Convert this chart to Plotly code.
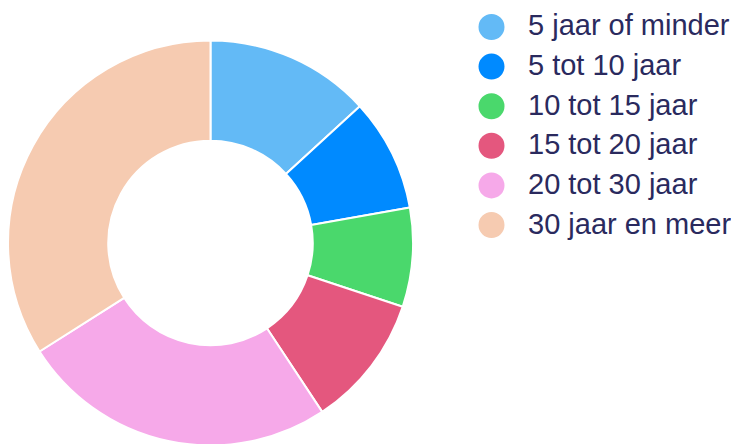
import plotly.graph_objects as go

categories = ["5 jaar of minder", "5 tot 10 jaar", "10 tot 15 jaar",
              "15 tot 20 jaar", "20 tot 30 jaar", "30 jaar en meer"]
values = [13.2, 9.0, 7.9, 10.6, 25.3, 34.0]
colors = ["#63BAF6", "#008AFF", "#4AD86C", "#E4577E", "#F6A9E9", "#F6CBB1"]

W, H = 739, 444
OFF = 8  # page body margin
text_color = "#2A2A5E"


def px(x):
    return (x - OFF) / W


def py(y):
    return 1 - (y - OFF) / H


fig = go.Figure()
fig.add_trace(go.Pie(
    labels=categories, values=values, sort=False, direction="clockwise",
    rotation=0, hole=0.505, textinfo="none", hoverinfo="label+percent",
    marker=dict(colors=colors, line=dict(color="white", width=2)),
    domain=dict(x=[px(8), px(413)], y=[py(445.5), py(40.5)]),
    showlegend=False,
))

# custom legend with circle markers
shapes = []
annotations = []
cx, r = 491.5, 13
y0, dy = 27, 39.6
for i, (lab, col) in enumerate(zip(categories, colors)):
    cy = y0 + i * dy
    shapes.append(dict(type="circle", xref="paper", yref="paper",
                       x0=px(cx - r), x1=px(cx + r),
                       y0=py(cy + r), y1=py(cy - r),
                       fillcolor=col, line=dict(width=0)))
    annotations.append(dict(text=lab, xref="paper", yref="paper",
                            x=px(526), y=py(cy - 1.5), xanchor="left", yanchor="middle",
                            showarrow=False,
                            font=dict(family="Liberation Sans", size=29, color=text_color)))

fig.update_layout(width=W, height=H, margin=dict(l=0, r=0, t=0, b=0),
                  paper_bgcolor="white", plot_bgcolor="white",
                  shapes=shapes, annotations=annotations)
fig.write_html("out.html")
